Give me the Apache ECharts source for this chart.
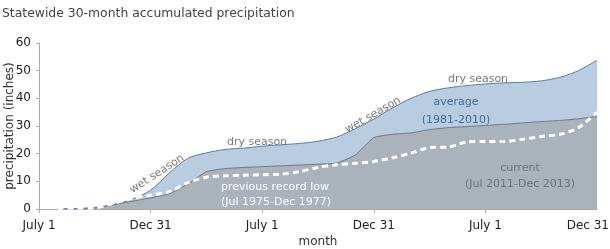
<!DOCTYPE html>
<html>
<head>
<meta charset="utf-8">
<script src="https://cdn.jsdelivr.net/npm/echarts@6/dist/echarts.min.js"></script>
<style>
  html, body { margin: 0; padding: 0; background: #ffffff; }
  #chart { width: 610px; height: 249px; }
</style>
</head>
<body>
<div id="chart"></div>
<script>
// months since July 1, 2011 (end of each month)
var months = [1, 2, 3, 4, 5, 6, 7, 8, 9, 10, 11, 12, 13, 14, 15, 16, 17, 18, 19, 20, 21, 22, 23, 24, 25, 26, 27, 28, 29, 30]
var tickLabels = ['July 1', 'Dec 31', 'July 1', 'Dec 31', 'July 1', 'Dec 31']
// average 1981-2010
var avgPrecip = [0, 0.2, 0.6, 1.6, 3.5, 6.8, 13, 18.3, 20.3, 21.5, 22, 22.7, 23.2, 23.7, 24.5, 26, 29, 32.5, 36.5, 40, 42.5, 43.8, 44.6, 45.2, 45.6, 45.8, 46.3, 47.6, 50, 53.8]
// current Jul 2011-Dec 2013
var currentPrecip = [0, 0, 0.3, 1.5, 2.8, 4, 5.5, 9, 13.5, 14.6, 15, 15.3, 15.6, 15.9, 16.2, 16.6, 19.5, 25.8, 27, 27.5, 28.7, 29.4, 29.8, 30.2, 30.6, 31.1, 31.6, 32, 32.6, 33.5]
// previous record low Jul 1975-Dec 1977
var recordLowPrecip = [0.2, 0.3, 0.4, 2, 3.8, 5, 6.3, 9.5, 11.5, 12, 12.2, 12.4, 12.6, 13.5, 15, 16, 16.5, 17.2, 18.5, 20.2, 22.2, 22.4, 24.2, 24.4, 24.4, 25.2, 26.2, 27, 29.4, 35]

function pairs (ys) {
  var out = []
  for (var i = 0; i < months.length; i++) {
    out.push([months[i], ys[i]])
  }
  return out
}

var font = 'DejaVu Sans'

// annotation text helper
function note (x, y, text, color, align, rot, size) {
  return {
    type: 'text',
    x: x,
    y: y,
    z: 100,
    rotation: (rot || 0) * Math.PI / 180,
    style: { text: text, font: (size || 11) + 'px "' + font + '"', fill: color, align: align || 'center', verticalAlign: 'middle' }
  }
}

var chart = echarts.init(document.getElementById('chart'))
chart.setOption({
  animation: false,
  textStyle: { fontFamily: font },
  title: {
    text: 'Statewide 30-month accumulated precipitation',
    left: 2,
    top: 8,
    padding: 0,
    textStyle: { fontFamily: font, fontSize: 12.4, fontWeight: 'normal', color: '#444' }
  },
  grid: { left: 39, right: 13, top: 43, bottom: 40, outerBoundsMode: 'none', containLabel: false },
  xAxis: {
    type: 'value',
    min: 0,
    max: 30,
    interval: 6,
    name: 'month',
    nameLocation: 'middle',
    nameGap: 27,
    nameMoveOverlap: false,
    nameTextStyle: { fontSize: 12, color: '#333' },
    axisLine: { lineStyle: { color: '#aaa' } },
    axisTick: { show: true, length: 4, lineStyle: { color: '#aaa' } },
    axisLabel: {
      fontSize: 12,
      color: '#222',
      margin: 11,
      showMaxLabel: false,
      formatter: function (v) { return v === 30 ? '' : tickLabels[v / 6] }
    },
    splitLine: { show: false }
  },
  yAxis: {
    type: 'value',
    min: 0,
    max: 60,
    interval: 10,
    name: 'precipitation (inches)',
    nameLocation: 'middle',
    nameGap: 23,
    nameMoveOverlap: false,
    nameTextStyle: { fontSize: 12, color: '#333' },
    axisLine: { show: true, lineStyle: { color: '#aaa' } },
    axisTick: { show: true, length: 3, lineStyle: { color: '#aaa' } },
    axisLabel: { fontSize: 12, color: '#222', margin: 8 },
    splitLine: { show: false }
  },
  series: [
    {
      name: 'average',
      type: 'line',
      data: pairs(avgPrecip),
      smooth: 0.3,
      symbol: 'none',
      lineStyle: { color: '#4f7fb5', width: 1 },
      areaStyle: { color: '#b9cce0', opacity: 1 }
    },
    {
      name: 'current',
      type: 'line',
      data: pairs(currentPrecip),
      smooth: 0.15,
      symbol: 'none',
      lineStyle: { color: '#6f7782', width: 1 },
      areaStyle: { color: '#aab2bc', opacity: 1 }
    },
    {
      name: 'previous record low',
      type: 'line',
      data: pairs(recordLowPrecip),
      smooth: 0.3,
      symbol: 'none',
      lineStyle: { color: '#ffffff', width: 3, type: [6, 4] }
    }
  ],
  graphic: [
    // last x tick label, pushed in so it stays inside the frame
    note(609, 226, tickLabels[5], '#222', 'right', 0, 12),
    note(157, 174, 'wet season', '#7a7a7a', 'center', 33),
    note(257, 142, 'dry season', '#7a7a7a'),
    note(373, 115, 'wet season', '#7a7a7a', 'center', 30),
    note(478, 79, 'dry season', '#7a7a7a'),
    note(456, 102, 'average', '#3b6ea5'),
    note(456, 120, '(1981-2010)', '#3b6ea5'),
    note(520, 168, 'current', '#6d737a'),
    note(520, 184, '(Jul 2011-Dec 2013)', '#6d737a'),
    note(221, 187, 'previous record low', '#ffffff', 'left'),
    note(221, 202, '(Jul 1975-Dec 1977)', '#ffffff', 'left')
  ]
})
</script>
</body>
</html>
